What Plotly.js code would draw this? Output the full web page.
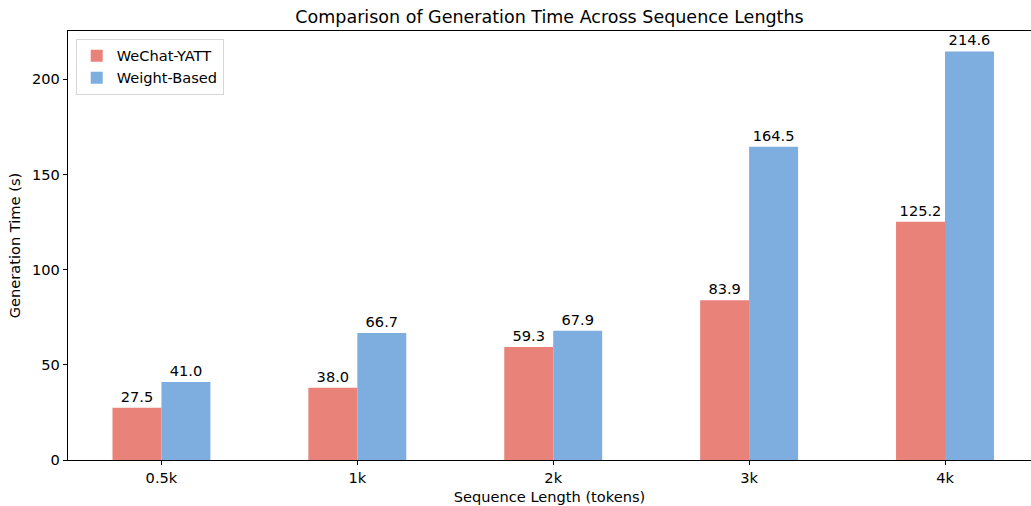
<!DOCTYPE html>
<html>
<head>
<meta charset="utf-8">
<script src="https://cdn.plot.ly/plotly-3.0.1.min.js"></script>
<style>html,body{margin:0;padding:0;background:#fff;}#chart{width:1031px;height:506px;}</style>
</head>
<body>
<div id="chart"></div>
<script>
const categories = ["0.5k", "1k", "2k", "3k", "4k"];
const wechatYatt = [27.5, 38.0, 59.3, 83.9, 125.2];
const weightBased = [41.0, 66.7, 67.9, 164.5, 214.6];
const seriesNames = ["WeChat-YATT", "Weight-Based"];
const yTicks = [0, 50, 100, 150, 200];

const font = "DejaVu Sans, sans-serif";
const fs = 14.6;
const fmt = v => v.toFixed(1);

const traces = [
  {
    type: "bar", name: seriesNames[0], x: categories, y: wechatYatt,
    marker: {color: "#E9837A", line: {width: 0}},
    text: wechatYatt.map(fmt), textposition: "outside", constraintext: "none",
    textfont: {family: font, size: fs, color: "#000"}, cliponaxis: false,
    hoverinfo: "none"
  },
  {
    type: "bar", name: seriesNames[1], x: categories, y: weightBased,
    marker: {color: "#7EAEDF", line: {width: 0}},
    text: weightBased.map(fmt), textposition: "outside", constraintext: "none",
    textfont: {family: font, size: fs, color: "#000"}, cliponaxis: false,
    hoverinfo: "none"
  }
];

const layout = {
  width: 1031, height: 506,
  margin: {l: 67.5, r: 0, t: 30.5, b: 45.5},
  paper_bgcolor: "#fff", plot_bgcolor: "#fff",
  font: {family: font, size: fs, color: "#000"},
  title: {text: "Comparison of Generation Time Across Sequence Lengths",
          font: {family: font, size: 17.5, color: "#000"},
          x: 0.5, xref: "paper", y: 1, yref: "paper", yanchor: "bottom", pad: {b: 8}},
  barmode: "group", bargap: 0.5, bargroupgap: 0,
  showlegend: true,
  legend: {x: 0.008, y: 0.982, xanchor: "left", yanchor: "top",
           bgcolor: "rgba(255,255,255,0.8)", bordercolor: "#d6d6d6", borderwidth: 1,
           font: {family: font, size: fs, color: "#000"}, traceorder: "normal"},
  xaxis: {
    type: "category", range: [-0.477, 4.439],
    showline: true, linecolor: "#000", linewidth: 1.2, mirror: true,
    ticks: "outside", ticklen: 4, tickcolor: "#000", tickwidth: 1,
    showgrid: false, zeroline: false, fixedrange: true,
    tickfont: {family: font, size: fs, color: "#000"},
    title: {text: "Sequence Length (tokens)", font: {family: font, size: fs, color: "#000"}, standoff: 7}
  },
  yaxis: {
    range: [0, 225.33], tickvals: yTicks, ticktext: yTicks.map(String),
    showline: true, linecolor: "#000", linewidth: 1.2, mirror: false,
    ticks: "outside", ticklen: 4, tickcolor: "#000", tickwidth: 1,
    showgrid: false, zeroline: false, fixedrange: true,
    tickfont: {family: font, size: fs, color: "#000"},
    title: {text: "Generation Time (s)", font: {family: font, size: fs, color: "#000"}, standoff: 8}
  }
};

Plotly.newPlot("chart", traces, layout, {displayModeBar: false, staticPlot: true});
</script>
</body>
</html>
